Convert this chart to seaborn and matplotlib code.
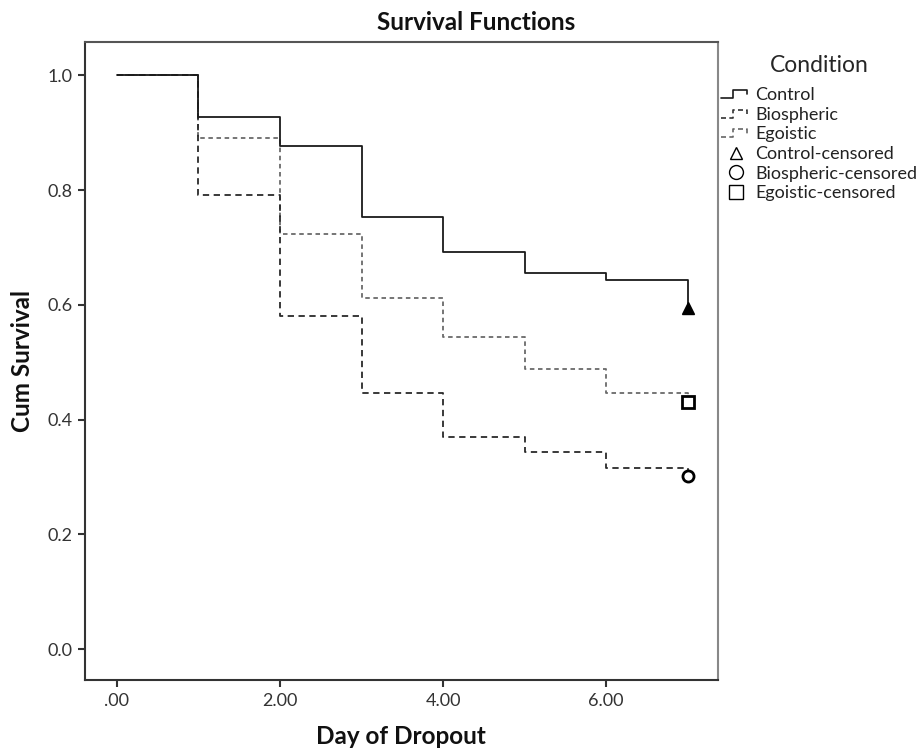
import numpy as np
import pandas as pd
import matplotlib
matplotlib.use("Agg")
import matplotlib.pyplot as plt
from matplotlib.lines import Line2D
from matplotlib.legend_handler import HandlerBase
import seaborn as sns

# ---- data ----
days = [0, 1, 2, 3, 4, 5, 6, 7]
control = [1.0, 0.927, 0.877, 0.753, 0.692, 0.656, 0.643, 0.594]
biospheric = [1.0, 0.791, 0.580, 0.447, 0.369, 0.343, 0.316, 0.302]
egoistic = [1.0, 0.890, 0.724, 0.611, 0.543, 0.488, 0.446, 0.431]
conditions = ["Control", "Biospheric", "Egoistic"]
censor_day = 7
censor_vals = [0.594, 0.302, 0.431]
x_ticks = [0, 2, 4, 6]
x_tick_labels = [".00", "2.00", "4.00", "6.00"]
y_ticks = [0.0, 0.2, 0.4, 0.6, 0.8, 1.0]

sns.set_style("white")
plt.rcParams["font.family"] = ["Lato", "DejaVu Sans"]

fig = plt.figure(figsize=(9.22, 7.5), dpi=100)
ax = fig.add_axes([85 / 922, 70 / 750, (718 - 85) / 922, (680 - 42) / 750])

styles = {
    "Control": dict(color="#1a1a1a", linestyle="-", linewidth=1.3),
    "Biospheric": dict(color="#2a2a2a", linestyle=(0, (3.5, 2.5)), linewidth=1.3),
    "Egoistic": dict(color="#6a6a6a", linestyle=(0, (2.5, 2.0)), linewidth=1.3),
}
series = {"Control": control, "Biospheric": biospheric, "Egoistic": egoistic}

for name in ["Egoistic", "Biospheric", "Control"]:
    df = pd.DataFrame({"day": days, "surv": series[name]})
    sns.lineplot(data=df, x="day", y="surv", ax=ax, drawstyle="steps-post",
                 estimator=None, sort=False, **styles[name])

# censored markers
ax.plot([censor_day], [censor_vals[0]], marker="^", markersize=8, color="black",
        linestyle="none")
ax.plot([censor_day], [censor_vals[1]], marker="o", markersize=8, markerfacecolor="white",
        markeredgecolor="black", markeredgewidth=2, linestyle="none")
ax.plot([censor_day], [censor_vals[2]], marker="s", markersize=8, markerfacecolor="white",
        markeredgecolor="black", markeredgewidth=2, linestyle="none")

ax.set_xlim(-0.39, 7.37)
ax.set_ylim(-0.054, 1.058)
ax.set_xticks(x_ticks)
ax.set_xticklabels(x_tick_labels)
ax.set_yticks(y_ticks)
ax.set_yticklabels([f"{v:.1f}" for v in y_ticks])
ax.tick_params(axis="both", direction="out", length=5, width=1.5, color="#333333",
               labelsize=13, labelcolor="#333333", pad=4)
ax.tick_params(axis="x", bottom=True)
ax.tick_params(axis="y", left=True)
for sp in ax.spines.values():
    sp.set_visible(True)
    sp.set_linewidth(1.5)
    sp.set_color("#333333")
ax.spines["right"].set_color("#888888")
ax.spines["top"].set_color("#555555")

ax.set_xlabel("")
ax.set_ylabel("")
fig.text(401 / 922, 1 - 737 / 750, "Day of Dropout", fontsize=17.5, fontweight="bold",
         ha="center", va="center", color="#111111")
fig.text(22 / 922, 1 - 361 / 750, "Cum Survival", fontsize=17.5, fontweight="bold",
         ha="center", va="center", rotation=90, color="#111111")
fig.text(476 / 922, 1 - 22 / 750, "Survival Functions", fontsize=17.5, fontweight="bold",
         ha="center", va="center", color="#111111")


class StepHandler(HandlerBase):
    def create_artists(self, legend, orig_handle, xdescent, ydescent, width, height,
                       fontsize, trans):
        xs = np.array([0, 0.4, 0.4, 0.85, 0.85]) * width - xdescent
        ys = np.array([0.15, 0.15, 0.8, 0.8, 0.45]) * height - ydescent
        ln = Line2D(xs, ys, color=orig_handle.get_color(),
                    linestyle=orig_handle.get_linestyle(),
                    linewidth=orig_handle.get_linewidth())
        if orig_handle.get_linestyle() != "-":
            ln.set_dashes((3, 2))
        ln.set_transform(trans)
        return [ln]


handles = [
    Line2D([], [], color="#1a1a1a", linestyle="-", linewidth=1.2),
    Line2D([], [], color="#333333", linestyle="--", linewidth=1.2),
    Line2D([], [], color="#666666", linestyle="--", linewidth=1.2),
    Line2D([], [], marker="^", markersize=9, markerfacecolor="white",
           markeredgecolor="black", linestyle="none"),
    Line2D([], [], marker="o", markersize=10, markerfacecolor="white",
           markeredgecolor="black", linestyle="none"),
    Line2D([], [], marker="s", markersize=10, markerfacecolor="white",
           markeredgecolor="black", linestyle="none"),
]
labels = conditions + [c + "-censored" for c in conditions]
handler_map = {h: StepHandler() for h in handles[:3]}
leg = fig.legend(handles, labels, title="Condition", loc="upper left",
                 bbox_to_anchor=(721 / 922, 1 - 55 / 750), frameon=False,
                 fontsize=13, title_fontsize=16.5, handlelength=1.7, handletextpad=0.2,
                 labelspacing=0.2, borderaxespad=0, borderpad=0, handler_map=handler_map)
leg._legend_box.sep = 8
for t in leg.get_texts():
    t.set_color("#222222")

fig.savefig("out.png", dpi=100)
